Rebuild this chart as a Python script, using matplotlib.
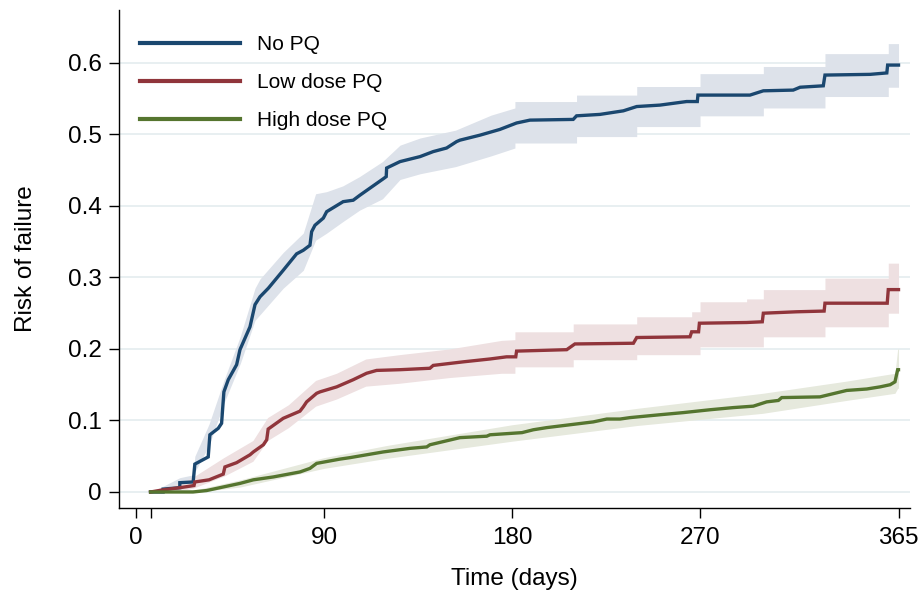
import matplotlib
matplotlib.use("Agg")
import matplotlib.pyplot as plt

plt.rcParams["font.family"] = ["Liberation Sans", "DejaVu Sans"]

# Kaplan-Meier style cumulative risk of failure by primaquine (PQ) group
groups = ["No PQ", "Low dose PQ", "High dose PQ"]
line_colors = ["#1a476f", "#90353b", "#55752f"]
band_colors = ["#dde2ea", "#eee0e1", "#e6e9dd"]

# --- No PQ ---
nopq_days = [7, 13, 13, 21, 21, 27.4, 28.2, 34.6, 35.4, 39.4, 41.0, 42.1, 44.2, 48.2,
             49.8, 54.6, 57.0, 59.4, 63.4, 70.5, 76.9, 80.1, 83.3, 84.1, 85.7, 89.7,
             91.3, 99.2, 104.0, 107.2, 118.4, 119.8, 120.0, 126.4, 136.0, 142.3, 148.7,
             153.5, 155.1, 164.7, 174.2, 182.2, 188.6, 209.3, 210.9, 222.1, 233.3,
             239.7, 250.8, 263.6, 268.7, 269.0, 293.9, 300.3, 314.6, 317.9, 329.0,
             329.8, 351.4, 359.4, 359.8, 365]
nopq_risk = [0.0, 0.0, 0.004, 0.006, 0.013, 0.014, 0.039, 0.049, 0.080, 0.089, 0.096,
             0.140, 0.157, 0.178, 0.199, 0.231, 0.262, 0.273, 0.285, 0.310, 0.333,
             0.338, 0.345, 0.364, 0.373, 0.383, 0.392, 0.406, 0.408, 0.415, 0.438,
             0.441, 0.453, 0.462, 0.469, 0.476, 0.481, 0.490, 0.492, 0.499, 0.507,
             0.516, 0.520, 0.521, 0.526, 0.528, 0.533, 0.539, 0.541, 0.546, 0.546,
             0.555, 0.555, 0.561, 0.562, 0.566, 0.568, 0.583, 0.584, 0.586, 0.597,
             0.597]
nopq_ci_days = [7, 13, 21, 27.4, 28.2, 35, 42.1, 50, 57, 59.4, 70.5, 80.1, 86, 91.3,
                99, 107, 118, 126.4, 136, 153, 170, 181.4, 181.4, 210.9, 210.9, 239.7,
                239.7, 270, 270, 300.3, 300.3, 329.8, 329.8, 360.1, 360.1, 365]
nopq_ci_lo = [0.0, 0.0, 0.004, 0.006, 0.028, 0.065, 0.124, 0.180, 0.240, 0.248, 0.285,
              0.310, 0.352, 0.362, 0.378, 0.394, 0.410, 0.437, 0.445, 0.455, 0.470,
              0.481, 0.488, 0.488, 0.497, 0.497, 0.511, 0.511, 0.526, 0.526, 0.537,
              0.537, 0.553, 0.553, 0.566, 0.566]
nopq_ci_hi = [0.0, 0.008, 0.020, 0.024, 0.050, 0.095, 0.156, 0.218, 0.285, 0.298, 0.335,
              0.362, 0.417, 0.420, 0.428, 0.441, 0.462, 0.485, 0.495, 0.506, 0.527,
              0.537, 0.546, 0.546, 0.555, 0.555, 0.567, 0.567, 0.585, 0.585, 0.595,
              0.595, 0.613, 0.613, 0.627, 0.627]

# --- Low dose PQ ---
low_days = [7, 13, 21, 27.8, 28.2, 35.0, 41.8, 42.6, 48.2, 54.6, 56.2, 61.0, 62.6, 63.3,
            70.5, 72.1, 78.5, 80.1, 81.7, 86.5, 88.1, 96.1, 104.0, 110.4, 115.2, 126.4,
            140.7, 142.3, 156.7, 169.5, 177.4, 181.8, 182.2, 206.2, 210.1, 238.1, 239.7,
            265.2, 266.0, 269.3, 269.7, 292.3, 299.8, 300.3, 316.3, 329.4, 329.8,
            359.6, 360.1, 365]
low_risk = [0.0, 0.003, 0.006, 0.009, 0.014, 0.017, 0.025, 0.035, 0.041, 0.052, 0.056,
            0.066, 0.073, 0.088, 0.103, 0.105, 0.113, 0.119, 0.126, 0.138, 0.140, 0.147,
            0.157, 0.166, 0.170, 0.171, 0.173, 0.177, 0.182, 0.186, 0.189, 0.189, 0.197,
            0.199, 0.207, 0.208, 0.216, 0.217, 0.224, 0.224, 0.236, 0.237, 0.238, 0.250,
            0.252, 0.253, 0.264, 0.264, 0.283, 0.283]
low_ci_days = [7, 13, 21, 28, 42, 56, 63, 73, 86, 96, 110, 126, 150, 175, 181.4, 181.4,
               209.3, 209.3, 239.7, 239.7, 266, 266, 270, 270, 292.3, 292.3, 300.3,
               300.3, 329.8, 329.8, 360.1, 360.1, 365]
low_ci_lo = [0.0, 0.0, 0.001, 0.006, 0.022, 0.043, 0.072, 0.090, 0.120, 0.130, 0.148,
             0.152, 0.160, 0.166, 0.166, 0.175, 0.175, 0.185, 0.185, 0.192, 0.192, 0.192,
             0.192, 0.203, 0.203, 0.203, 0.203, 0.217, 0.217, 0.231, 0.231, 0.250, 0.250]
low_ci_hi = [0.0, 0.006, 0.012, 0.022, 0.048, 0.072, 0.104, 0.122, 0.156, 0.166, 0.186,
             0.192, 0.200, 0.212, 0.213, 0.224, 0.224, 0.235, 0.235, 0.245, 0.245, 0.252,
             0.252, 0.266, 0.266, 0.270, 0.270, 0.283, 0.283, 0.299, 0.299, 0.320, 0.320]

# --- High dose PQ ---
high_days = [7, 27.3, 33.8, 41.8, 49.8, 56.2, 65.7, 78.5, 83.3, 86.5, 97.7, 102.4,
             110.4, 118.4, 131.2, 139.2, 140.7, 155.1, 167.9, 169.5, 184.8, 190.2,
             196.6, 218.9, 225.4, 231.7, 236.5, 250.8, 262.0, 274.8, 285.9, 295.5,
             301.9, 307.5, 309.1, 327.4, 340.2, 349.8, 356.2, 361.0, 363.3, 364.6, 365]
high_risk = [0.0, 0.0, 0.002, 0.007, 0.012, 0.017, 0.021, 0.028, 0.033, 0.040, 0.046,
             0.048, 0.052, 0.056, 0.061, 0.063, 0.066, 0.076, 0.078, 0.080, 0.083,
             0.087, 0.090, 0.098, 0.102, 0.102, 0.104, 0.108, 0.111, 0.115, 0.118,
             0.120, 0.126, 0.128, 0.132, 0.133, 0.142, 0.144, 0.147, 0.150, 0.154,
             0.171, 0.171]
high_ci_days = [7, 30, 50, 90, 120, 180, 240, 300, 340, 363.3, 364.6, 365]
high_ci_lo = [0.0, 0.0, 0.007, 0.033, 0.047, 0.071, 0.093, 0.110, 0.128, 0.138, 0.145, 0.145]
high_ci_hi = [0.0, 0.004, 0.017, 0.048, 0.065, 0.094, 0.117, 0.138, 0.155, 0.166, 0.200, 0.200]

series = [
    (nopq_days, nopq_risk, nopq_ci_days, nopq_ci_lo, nopq_ci_hi),
    (low_days, low_risk, low_ci_days, low_ci_lo, low_ci_hi),
    (high_days, high_risk, high_ci_days, high_ci_lo, high_ci_hi),
]

x_ticks = [0, 7, 90, 180, 270, 365]
x_tick_labels = ["0", "", "90", "180", "270", "365"]
y_ticks = [0, 0.1, 0.2, 0.3, 0.4, 0.5, 0.6]
y_tick_labels = ["0", "0.1", "0.2", "0.3", "0.4", "0.5", "0.6"]

fig = plt.figure(figsize=(9.22, 5.99), dpi=100)
ax = fig.add_axes([119 / 922, 1 - 508 / 599, 791 / 922, 498 / 599])

for (d, r, cd, lo, hi), lc, bc in zip(series, line_colors, band_colors):
    ax.fill_between(cd, lo, hi, color=bc, linewidth=0, zorder=2)
for (d, r, cd, lo, hi), lc, name in zip(series, line_colors, groups):
    ax.plot(d, r, color=lc, lw=2.4, solid_joinstyle="miter", zorder=3, label=name)

ax.set_xlim(-8.1, 370.5)
ax.set_ylim(-0.0224, 0.674)

ax.set_yticks(y_ticks)
ax.set_yticklabels(y_tick_labels)
ax.set_xticks(x_ticks)
ax.set_xticklabels(x_tick_labels)
ax.yaxis.grid(True, color="#e8eff1", lw=1.4, zorder=1)
ax.set_axisbelow(True)

for s in ("top", "right"):
    ax.spines[s].set_visible(False)
for s in ("left", "bottom"):
    ax.spines[s].set_linewidth(1.0)
    ax.spines[s].set_color("black")

ax.tick_params(axis="both", direction="out", length=7.5, width=1.0,
               labelsize=17.5, colors="black")
ax.tick_params(axis="y", pad=5)
ax.tick_params(axis="x", pad=6)

ax.set_xlabel("Time (days)", fontsize=17.5, labelpad=14)
ax.set_ylabel("Risk of failure", fontsize=17.5, labelpad=22)

leg = ax.legend(loc="upper left", bbox_to_anchor=(0.0265, 0.950), frameon=False,
                fontsize=15, handlelength=4.8, handletextpad=0.8,
                labelspacing=0.92, borderpad=0, borderaxespad=0)
for h in leg.get_lines():
    h.set_linewidth(3.0)

fig.savefig("out.png", dpi=100)
